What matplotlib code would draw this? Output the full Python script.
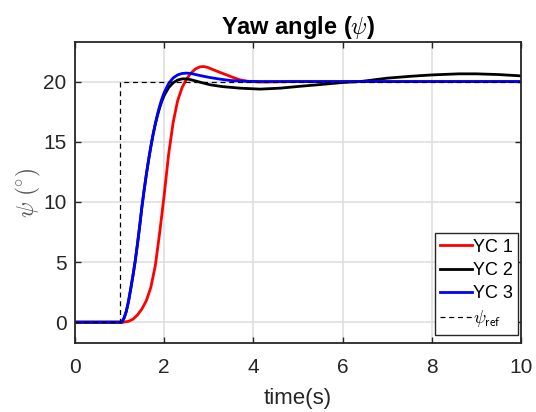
import numpy as np
import matplotlib
matplotlib.use('Agg')
import matplotlib.pyplot as plt

# YC 1 (red)
t1 = [0, 1.0, 1.08, 1.2, 1.3, 1.4, 1.5, 1.6, 1.7, 1.8, 1.9, 2.0, 2.1, 2.2, 2.3, 2.4,
      2.5, 2.6, 2.7, 2.8, 2.88, 2.97, 3.1, 3.25, 3.4, 3.55, 3.7, 3.9, 4.2, 4.6, 5, 6, 8, 10]
y1 = [0, 0, 0.0, 0.07, 0.25, 0.6, 1.1, 1.8, 2.9, 4.7, 7.5, 10.6, 14.0, 16.6, 18.4, 19.5,
      20.2, 20.7, 21.05, 21.22, 21.25, 21.18, 20.98, 20.76, 20.55, 20.33, 20.14, 20.0, 19.96, 19.98, 20.0, 20.0, 20.0, 20.0]

# YC 2 (black)
t2 = [0, 1.0, 1.05, 1.1, 1.15, 1.2, 1.25, 1.3, 1.35, 1.4, 1.45, 1.5, 1.55, 1.6, 1.65, 1.7,
      1.75, 1.8, 1.85, 1.9, 1.95, 2.0, 2.1, 2.2, 2.3, 2.4, 2.5, 2.6, 2.8, 3.03, 3.3, 3.7,
      4.15, 4.6, 5, 5.5, 6, 6.4, 7, 7.5, 8, 8.6, 9.0, 9.5, 10]
y2 = [0, 0, 0.0, 0.35, 0.9, 1.75, 2.8, 3.9, 5.1, 6.5, 8.0, 9.6, 11.0, 12.3, 13.5, 14.6,
      15.6, 16.45, 17.2, 17.85, 18.4, 18.85, 19.5, 19.9, 20.12, 20.22, 20.22, 20.15, 19.95, 19.73, 19.58, 19.45,
      19.37, 19.45, 19.59, 19.75, 19.92, 20.0, 20.28, 20.43, 20.55, 20.64, 20.64, 20.58, 20.47]

# YC 3 (blue)
t3 = [0, 1.0, 1.05, 1.1, 1.15, 1.2, 1.25, 1.3, 1.35, 1.4, 1.45, 1.5, 1.55, 1.6, 1.65, 1.7,
      1.75, 1.8, 1.85, 1.9, 1.95, 2.0, 2.1, 2.2, 2.3, 2.4, 2.5, 2.6, 2.8, 3.0, 3.25, 3.5,
      3.8, 4.2, 5, 6, 8, 10]
y3 = [0, 0, 0.0, 0.35, 0.9, 1.75, 2.8, 3.9, 5.1, 6.5, 8.0, 9.6, 11.0, 12.3, 13.5, 14.6,
      15.6, 16.5, 17.3, 18.0, 18.6, 19.1, 19.85, 20.3, 20.55, 20.67, 20.7, 20.67, 20.5, 20.35, 20.2, 20.08,
      20.02, 20.0, 20.0, 20.0, 20.0, 20.0]

# reference
t_ref = [0, 1, 1, 10]
y_ref = [0, 0, 20, 20]

xticks = [0, 2, 4, 6, 8, 10]
yticks = [0, 5, 10, 15, 20]

plt.rcParams['font.family'] = ['Liberation Sans', 'DejaVu Sans']
plt.rcParams['mathtext.fontset'] = 'cm'

fig = plt.figure(figsize=(5.36, 4.12), dpi=100)
ax = fig.add_axes([0.140, 0.1675, 0.832, 0.7295])

ax.plot(t1, y1, color='#ff0000', lw=2.0, label='YC 1')
ax.plot(t2, y2, color='#000000', lw=2.0, label='YC 2')
ax.plot(t3, y3, color='#0000ff', lw=2.0, label='YC 3')
ax.plot(t_ref, y_ref, 'k--', lw=0.9, dashes=(4, 3), label=r'$\psi_{\mathsf{ref}}$')

ax.set_xlim(0, 10)
ax.set_ylim(-1.73, 23.25)
ax.set_xticks(xticks)
ax.set_yticks(yticks)
ax.grid(True, color='#dcdcdc', lw=1.1)
ax.set_axisbelow(True)
ax.tick_params(direction='in', top=True, right=True, length=4, width=1.0,
               labelsize=15, colors='#262626')
ax.tick_params(axis='y', pad=6)
ax.tick_params(axis='x', pad=11)
for s in ax.spines.values():
    s.set_linewidth(1.3)
    s.set_color('#262626')

ax.set_title(r'Yaw angle ($\psi$)', fontsize=17, fontweight='bold', pad=6)
ax.set_xlabel('time(s)', fontsize=16, color='#262626', labelpad=8)
ax.set_ylabel(r'$\psi\ (\!^\circ\!)$', fontsize=17, color='#555555', labelpad=0)

leg = ax.legend(loc='lower right', bbox_to_anchor=(0.993, 0.027), borderaxespad=0,
                fontsize=13, handlelength=1.75, handletextpad=0.05,
                fancybox=False, framealpha=1, labelspacing=0.35, borderpad=0.3)
leg.get_frame().set_edgecolor('#262626')
leg.get_frame().set_linewidth(1.0)

fig.savefig('out.png', dpi=100)
